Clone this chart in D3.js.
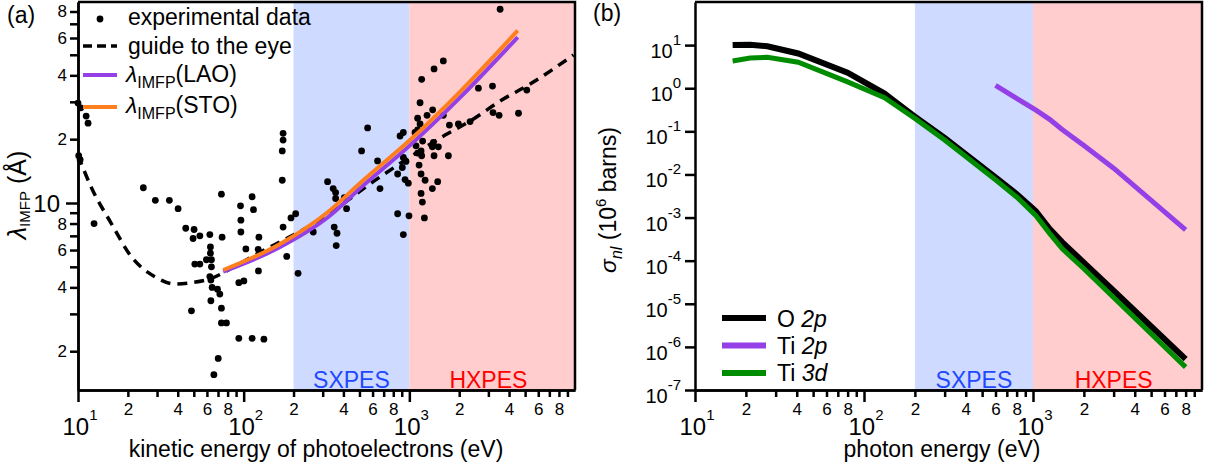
<!DOCTYPE html>
<meta charset="utf-8">
<style>
body { margin: 0; background: #fff; }
svg { font-family: "Liberation Sans", Arial, sans-serif; }
.frame { fill: none; stroke: #000; stroke-width: 2.5px; }
.axis path, .axis line { stroke: #000; stroke-width: 2.5px; }
.axis text { font-size: 17px; fill: #000; font-family: "Liberation Sans", Arial, sans-serif; }
.lbl { font-size: 23px; fill: #000; }
</style>
<body>
<svg width="1212" height="468"></svg>
<script src="https://d3js.org/d3.v7.min.js"></script>
<script>
// (a) experimental IMFP values: kinetic energy (eV) / lambda (Angstrom)
var expE = [10.0, 10.4, 11.2, 11.5, 10.1, 10.3, 12.5, 24.8, 29.3, 35.6, 40.2, 44.7, 50.2, 49.5, 54.4, 62.5,
  73.4, 74.1, 63.0, 63.0, 59.6, 63.9, 50.7, 54.4, 63.9, 62.5, 63.4, 64.5, 69.5, 71.8, 63.4, 73.4, 48.4,
  73.4, 78.7, 70.2, 66.1, 93.5, 112.5, 132.5, 95.7, 96.2, 96.2, 112.5, 114.6, 103.1, 123.6, 122.4, 125.3,
  122.8, 93.5, 100.3, 173, 173, 171, 171, 173, 193, 206, 182, 213, 321, 263,
  3532, 1604, 1410, 1187, 1161, 1122, 1279, 1383, 1604, 1161, 1122, 1082, 1745, 1977, 2327, 2612, 3177,
  5117, 3199, 3483, 4560, 560, 879, 920, 515, 643, 1097, 1203, 1397, 1377, 1497, 1177, 1122, 1187, 1410,
  1721, 920, 955, 907, 850, 1145, 1177, 1245, 1483, 942, 986, 665, 1377, 1177, 1199, 850, 995, 1233, 920,
  347, 359, 359, 405, 418, 352, 366, 362];
var expL = [29.6, 28.1, 25.7, 23.8, 16.7, 16.0, 8.0, 11.8, 10.3, 10.3, 9.4, 7.6, 7.5, 6.8, 7.0, 7.1,
  11.0, 6.9, 6.2, 5.8, 5.4, 5.4, 5.15, 5.15, 5.0, 4.5, 4.33, 4.0, 3.92, 3.72, 3.46, 3.19, 3.1,
  2.72, 2.72, 1.85, 1.55, 2.30, 2.30, 2.28, 9.7, 8.3, 7.3, 10.7, 9.3, 6.07, 6.9, 6.05, 5.75,
  4.78, 4.21, 4.29, 21.3, 19.8, 17.6, 12.8, 7.7, 8.5, 8.9, 5.6, 4.66, 12.6, 7.3,
  82, 46.8, 42.9, 38.3, 29.7, 25.1, 25.9, 27.5, 25.9, 23.6, 22.1, 21.5, 23.3, 23.6, 24.2, 34.8, 35.6,
  34.1, 26.7, 25.9, 26.5, 22.6, 20.7, 21.5, 17.6, 15.8, 18.6, 19.6, 19.3, 18.4, 18.4, 17.6, 17.2, 16.7, 16.7,
  16.7, 16.4, 15.7, 14.7, 13.7, 15.1, 13.7, 12.8, 12.6, 12.9, 12.4, 11.7, 11.7, 11.1, 10.1, 8.9, 8.7, 8.5, 7.1,
  11.7, 11.2, 10.5, 10.6, 9.4, 7.7, 7.2, 6.3];

// guide to the eye
var guideE = [10, 12.0, 15.9, 21.0, 29.1, 38.4, 48.4, 63.9, 84.4, 122.4, 177.4, 257, 650, 1644, 2379, 3613, 5236, 9795];
var guideL = [16.8, 11.9, 8.0, 5.58, 4.49, 4.15, 4.21, 4.41, 4.92, 5.79, 6.74, 7.87, 13.1, 20.9, 24.6, 30.6, 36.0, 49.9];

// calculated IMFP
var calcE = [75.2, 161.6, 324, 515, 1009, 2070, 4510];
var laoL = [4.75, 6.13, 8.59, 11.9, 18.7, 32.0, 60.5];
var stoL = [4.83, 6.34, 9.1, 12.6, 19.8, 34.1, 65.0];

// (b) photoionization cross sections (10^6 barns)
var phE = [16.7, 21.2, 26.8, 40.8, 80, 132.3, 151.4, 200, 300, 600, 800, 1041, 1253.6, 1486.7, 2000, 3000, 8000];
var o2p = [10, 10.2, 9.4, 6.4, 2.3, 0.75, 0.5, 0.22, 0.07, 0.0085, 0.0035, 0.0014, 5.5e-4, 2.7e-4, 9.0e-5, 2.0e-5, 5.2e-7];
var ti3d = [4.3, 5.0, 5.2, 4.0, 1.4, 0.6, 0.42, 0.2, 0.063, 0.0075, 0.003, 0.0011, 4.3e-4, 1.9e-4, 6.5e-5, 1.4e-5, 3.4e-7];
var ti2pE = [600, 800, 1041, 1253.6, 1486.7, 2000, 3000, 8000];
var ti2p = [1.16, 0.58, 0.31, 0.19, 0.11, 0.047, 0.014, 5.2e-4];

// shaded regions (eV)
var sxRange = [200, 1000], hxRange = [1000, 10000];

var svg = d3.select("svg");
var plotTop = 2, plotBottom = 390;

function zip(a, b) { return a.map(function(v, i) { return [v, b[i]]; }); }
function mant(v) { return Math.round(v / Math.pow(10, Math.floor(Math.log10(v) + 1e-9))); }

function minorTicks(lo, hi) {
  var t = [];
  for (var d = lo; d < hi; d *= 10)
    for (var m = 2; m <= 9; m++) t.push(m * d);
  return t;
}

function bands(g, x) {
  g.append("rect").attr("x", x(sxRange[0])).attr("y", plotTop)
    .attr("width", x(sxRange[1]) - x(sxRange[0])).attr("height", plotBottom - plotTop).attr("fill", "#CEDAFF");
  g.append("rect").attr("x", x(hxRange[0])).attr("y", plotTop)
    .attr("width", x(hxRange[1]) - x(hxRange[0])).attr("height", plotBottom - plotTop).attr("fill", "#FFCDCD");
  g.append("text").attr("class", "lbl").attr("x", x(Math.sqrt(sxRange[0] * sxRange[1]))).attr("y", 388)
    .attr("text-anchor", "middle").style("fill", "#1F48FF").text("SXPES");
  g.append("text").attr("class", "lbl").attr("x", x(3000)).attr("y", 388)
    .attr("text-anchor", "middle").style("fill", "#FF0000").text("HXPES");
}

function xAxis(x, label, cx) {
  svg.append("g").attr("class", "axis").attr("transform", "translate(0," + plotBottom + ")")
    .call(d3.axisBottom(x).tickValues(minorTicks(10, 10000)).tickSize(7).tickSizeOuter(0)
      .tickFormat(function(d) { var m = mant(d); return m % 2 === 0 ? m : ""; }))
    .selectAll("text").attr("dy", "0.9em");
  svg.append("g").attr("class", "axis").attr("transform", "translate(0," + plotBottom + ")")
    .call(d3.axisBottom(x).tickValues([10, 100, 1000]).tickSize(12).tickSizeOuter(0).tickFormat(""));
  [1, 2, 3].forEach(function(p) {
    var t = svg.append("text").attr("x", x(Math.pow(10, p)) + 2).attr("y", 435)
      .attr("text-anchor", "middle").style("font-size", "24px");
    t.append("tspan").text("10");
    t.append("tspan").attr("dy", -15).style("font-size", "15px").text(p);
  });
  svg.append("text").attr("class", "lbl").attr("x", cx).attr("y", 457).attr("text-anchor", "middle").text(label);
}

function frame(x0, x1) {
  svg.append("path").attr("class", "frame")
    .attr("d", "M" + x0 + "," + plotTop + "H" + x1 + "V" + plotBottom);
}

// ---------- panel (a) ----------
var xa = d3.scaleLog().domain([10, 10000]).range([78, 575]);
var ya = d3.scaleLog().domain([1.3125, 88.7]).range([plotBottom, plotTop]);
var ga = svg.append("g");
bands(ga, xa);

ga.append("path").datum(zip(guideE, guideL))
  .attr("fill", "none").attr("stroke", "#000").attr("stroke-width", 3.5).attr("stroke-dasharray", "10,7")
  .attr("d", d3.line().x(function(d) { return xa(d[0]); }).y(function(d) { return ya(d[1]); }).curve(d3.curveMonotoneX));

ga.selectAll("circle").data(zip(expE, expL)).enter().append("circle")
  .attr("cx", function(d) { return xa(d[0]); }).attr("cy", function(d) { return ya(d[1]); })
  .attr("r", 3.4).attr("fill", "#000");

var lineA = d3.line().x(function(d) { return xa(d[0]); }).y(function(d) { return ya(d[1]); }).curve(d3.curveMonotoneX);
ga.append("path").datum(zip(calcE, laoL)).attr("fill", "none").attr("stroke", "#9440E6").attr("stroke-width", 4).attr("d", lineA);
ga.append("path").datum(zip(calcE, stoL)).attr("fill", "none").attr("stroke", "#FF7F1E").attr("stroke-width", 4).attr("d", lineA);

// legend (a)
var leg = svg.append("g");
leg.append("circle").attr("cx", 100).attr("cy", 19).attr("r", 3.4).attr("fill", "#000");
leg.append("line").attr("x1", 83).attr("x2", 117).attr("y1", 46).attr("y2", 46)
  .attr("stroke", "#000").attr("stroke-width", 3.5).attr("stroke-dasharray", "9,5");
leg.append("line").attr("x1", 83).attr("x2", 117).attr("y1", 75).attr("y2", 75).attr("stroke", "#9440E6").attr("stroke-width", 4);
leg.append("line").attr("x1", 83).attr("x2", 117).attr("y1", 107).attr("y2", 107).attr("stroke", "#FF7F1E").attr("stroke-width", 4);
leg.append("text").attr("class", "lbl").attr("x", 128).attr("y", 25).text("experimental data");
leg.append("text").attr("class", "lbl").attr("x", 128).attr("y", 54).text("guide to the eye");
["LAO", "STO"].forEach(function(s, i) {
  var t = leg.append("text").attr("class", "lbl").attr("x", 126).attr("y", 82 + i * 31);
  t.append("tspan").style("font-style", "italic").text("\u03bb");
  t.append("tspan").attr("dy", 6).style("font-size", "16px").text("IMFP");
  t.append("tspan").attr("dy", -6).text("(" + s + ")");
});

// axes (a)
xAxis(xa, "kinetic energy of photoelectrons (eV)", 316);
var yMinor = minorTicks(1, 100).filter(function(d) { return d !== 10 && d < 88.7; });
svg.append("g").attr("class", "axis").attr("transform", "translate(78,0)")
  .call(d3.axisLeft(ya).tickValues(yMinor).tickSize(8).tickSizeOuter(0)
    .tickFormat(function(d) { var m = mant(d); return m % 2 === 0 ? m : ""; }));
svg.append("g").attr("class", "axis").attr("transform", "translate(78,0)")
  .call(d3.axisLeft(ya).tickValues([10]).tickSize(12).tickSizeOuter(0).tickFormat(""));
svg.append("text").attr("x", 60).attr("y", ya(10) + 9).attr("text-anchor", "end").style("font-size", "24px").text("10");
frame(78, 575);
var yta = svg.append("text").attr("transform", "translate(26,195) rotate(-90)").attr("text-anchor", "middle").style("font-size", "25px");
yta.append("tspan").style("font-style", "italic").text("\u03bb");
yta.append("tspan").attr("dy", 4).style("font-size", "15px").text("IMFP");
yta.append("tspan").attr("dy", -4).text(" (\u00c5)");
svg.append("text").attr("class", "lbl").attr("x", 7).attr("y", 23).text("(a)");

// ---------- panel (b) ----------
var xb = d3.scaleLog().domain([10, 10000]).range([695, 1202]);
var yb = d3.scaleLog().domain([1e-7, 100]).range([plotBottom, plotTop]);
var gb = svg.append("g");
bands(gb, xb);
var lineB = d3.line().x(function(d) { return xb(d[0]); }).y(function(d) { return yb(d[1]); });
gb.append("path").datum(zip(phE, o2p)).attr("fill", "none").attr("stroke", "#000").attr("stroke-width", 6).attr("d", lineB);
gb.append("path").datum(zip(ti2pE, ti2p)).attr("fill", "none").attr("stroke", "#9440E6").attr("stroke-width", 5).attr("d", lineB);
gb.append("path").datum(zip(phE, ti3d)).attr("fill", "none").attr("stroke", "#008C00").attr("stroke-width", 5).attr("d", lineB);

var legB = [["O", "2p", "#000"], ["Ti", "2p", "#9440E6"], ["Ti", "3d", "#008C00"]];
legB.forEach(function(l, i) {
  svg.append("line").attr("x1", 722).attr("x2", 766).attr("y1", 318 + i * 27.5).attr("y2", 318 + i * 27.5)
    .attr("stroke", l[2]).attr("stroke-width", 6);
  var t = svg.append("text").attr("class", "lbl").attr("x", 777).attr("y", 327 + i * 27);
  t.append("tspan").text(l[0] + " ");
  t.append("tspan").style("font-style", "italic").text(l[1]);
});

xAxis(xb, "photon energy (eV)", 942);
svg.append("g").attr("class", "axis").attr("transform", "translate(695,0)")
  .call(d3.axisLeft(yb).tickValues([1e-7, 1e-6, 1e-5, 1e-4, 1e-3, 1e-2, 1e-1, 1, 10]).tickSize(10).tickSizeOuter(0).tickFormat(""));
[-7, -6, -5, -4, -3, -2, -1, 0, 1].forEach(function(p) {
  var t = svg.append("text").attr("x", 681).attr("y", yb(Math.pow(10, p)) + 13).attr("text-anchor", "end").style("font-size", "20px");
  t.append("tspan").text("10");
  t.append("tspan").attr("dy", -13).style("font-size", "15px").text(p < 0 ? "-" + (-p) : p);
});
frame(695, 1202);
var ytb = svg.append("text").attr("class", "lbl").attr("transform", "translate(616,200) rotate(-90)").attr("text-anchor", "middle");
ytb.append("tspan").text("\u03c3").style("font-style", "italic");
ytb.append("tspan").attr("dy", 6).style("font-size", "16px").style("font-style", "italic").text("nl");
ytb.append("tspan").attr("dy", -6).text(" (10");
ytb.append("tspan").attr("dy", -10).style("font-size", "15px").text("6");
ytb.append("tspan").attr("dy", 10).text(" barns)");
svg.append("text").attr("class", "lbl").attr("x", 593).attr("y", 21).text("(b)");
</script>
